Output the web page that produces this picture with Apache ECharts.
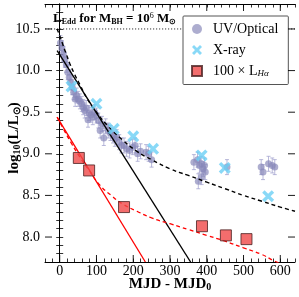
<!DOCTYPE html>
<html><head><meta charset="utf-8">
<script src="https://cdn.jsdelivr.net/npm/echarts@6/dist/echarts.min.js"></script>
<style>html,body{margin:0;padding:0;background:#fff}#c{width:299px;height:297px}</style>
</head><body><div id="c"></div>
<script>
const xTicks = [0,100,200,300,400,500,600];
const yTicks = [8.0,8.5,9.0,9.5,10.0,10.5];
const uvOptical = [[2,10.33],[6,10.27],[10,10.20],[14,10.13],[18,10.07],[22,9.98],[26,9.92],[30,9.86],[34,9.80],[38,9.74],[42,9.66],[46,9.70],[50,9.66],[55,9.63],[60,9.60],[64,9.56],[68,9.52],[72,9.55],[77,9.41],[80,9.49],[85,9.47],[90,9.44],[95,9.50],[100,9.46],[105,9.40],[110,9.28],[115,9.36],[120,9.19],[125,9.33],[132,9.28],[138,9.25],[145,9.22],[150,9.18],[155,9.20],[162,9.14],[168,9.10],[175,9.10],[182,9.06],[190,9.04],[198,9.08],[205,9.10],[212,9.00],[220,9.03],[235,9.02],[242,9.00],[250,8.93],[365,8.90],[375,8.93],[380,8.86],[385,8.88],[390,8.82],[394,8.86],[396,8.78],[386,8.72],[377,8.67],[455,8.84],[548,8.84],[553,8.78],[568,8.88],[578,8.86],[585,8.84]];
const uvErr = 0.09;
const xray = [[32,9.81],[100,9.60],[147,9.30],[200,9.21],[254,9.06],[386,8.98],[449,8.83],[567,8.49]];
const halpha = [[52,8.95],[80,8.80],[175,8.36],[387,8.13],[452,8.02],[508,7.975]];
const blackSolid = [[-7,10.24],[356,7.70]];
const blackDashed = [[-7,10.50],[0,10.42],[8,10.32],[16,10.22],[28,10.08],[40,9.96],[55,9.83],[75,9.66],[100,9.50],[130,9.34],[170,9.17],[210,9.03],[250,8.93],[300,8.82],[350,8.74],[400,8.66],[450,8.58],[500,8.50],[550,8.43],[600,8.36],[640,8.31]];
const redSolid = [[-7,9.44],[233,7.70]];
const redDashed = [[-7,9.44],[10,9.30],[30,9.14],[55,8.96],[80,8.80],[110,8.62],[140,8.50],[170,8.40],[210,8.31],[250,8.23],[300,8.16],[350,8.09],[400,8.02],[450,7.95],[500,7.87],[550,7.79],[580,7.72],[600,7.68]];
const eddington = 10.5;
const X_MIN=-40, X_MAX=640, Y_MIN=7.7, Y_MAX=10.8;

const serif = 'Liberation Serif';
const xPath = 'path://M0,2 L2,0 L5,3 L8,0 L10,2 L7,5 L10,8 L8,10 L5,7 L2,10 L0,8 L3,5 Z';

function axisBase(){return {axisLine:{show:true,lineStyle:{color:'#000',width:1}},axisTick:{show:true,inside:true,length:3.5,lineStyle:{color:'#000',width:0.8}},splitLine:{show:false}};}

const chart = echarts.init(document.getElementById('c'),null,{renderer:'canvas'});
const majorTick = (isX) => ({
  type:'custom', silent:true, z:10, clip:false,
  data: isX ? xTicks.map(v=>[v,Y_MIN]) : yTicks.map(v=>[X_MIN,v]),
  renderItem:(params,api)=>{
    const cs=params.coordSys; const p=api.coord([api.value(0),api.value(1)]);
    const L=7; const st={stroke:'#000',lineWidth:0.9};
    if(isX){return {type:'group',children:[
      {type:'line',shape:{x1:p[0],y1:cs.y+cs.height,x2:p[0],y2:cs.y+cs.height-L},style:st},
      {type:'line',shape:{x1:p[0],y1:cs.y,x2:p[0],y2:cs.y+L},style:st}]};}
    return {type:'group',children:[
      {type:'line',shape:{x1:cs.x,y1:p[1],x2:cs.x+L,y2:p[1]},style:st},
      {type:'line',shape:{x1:cs.x+cs.width,y1:p[1],x2:cs.x+cs.width-L,y2:p[1]},style:st}]};
  }
});

const boldRich = {a:{fontFamily:serif,fontWeight:'bold',fontSize:15,fill:'#000'},
                  s:{fontFamily:serif,fontWeight:'bold',fontSize:10,fill:'#000',padding:[7,0,0,0]}};

chart.setOption({
  animation:false,
  grid:{left:45,right:4,top:4,bottom:35,containLabel:false,outerBoundsMode:'none'},
  xAxis:[
    Object.assign(axisBase(),{type:'value',min:X_MIN,max:X_MAX,interval:20,position:'bottom',
      axisLabel:{fontFamily:serif,fontSize:14,color:'#000',margin:2,
        formatter:v=>(Math.abs(v%100)<1e-6?String(v):'')}}),
    Object.assign(axisBase(),{type:'value',min:X_MIN,max:X_MAX,interval:20,position:'top',axisLabel:{show:false}})
  ],
  yAxis:[
    Object.assign(axisBase(),{type:'value',min:Y_MIN,max:Y_MAX,interval:0.1,position:'left',
      axisLabel:{fontFamily:serif,fontSize:14,color:'#000',margin:5,
        formatter:v=>(Math.abs(v*2-Math.round(v*2))<1e-6?v.toFixed(1):'')}}),
    Object.assign(axisBase(),{type:'value',min:Y_MIN,max:Y_MAX,interval:0.1,position:'right',axisLabel:{show:false}})
  ],
  legend:{
    orient:'vertical',left:183,top:16,itemWidth:10,itemHeight:10,itemGap:7,
    padding:[6,10,6,8],backgroundColor:'#fff',borderColor:'#555',borderWidth:1,borderRadius:1,
    data:['UV/Optical','X-ray','100 × L_Hα'],
    textStyle:{fontFamily:serif,fontSize:14,color:'#000',padding:[0,0,0,6],
      rich:{a:{fontFamily:serif,fontSize:14,color:'#000'},s:{fontFamily:serif,fontSize:9,fontStyle:'italic',color:'#000',padding:[6,0,0,0]}}},
    formatter:n=> n==='100 × L_Hα' ? '{a|100 × L}{s|Hα}' : n
  },
  graphic:[
    {type:'text',left:53,top:12,z:20,style:{
      text:'{a|L}{s|Edd}{a| for M}{s|BH}{a| = 10}{p|6}{a| M}{s|⊙}',
      rich:{a:{fontFamily:serif,fontWeight:'bold',fontSize:13,fill:'#000'},
            s:{fontFamily:serif,fontWeight:'bold',fontSize:8,fill:'#000',padding:[5,0,0,0]},
            p:{fontFamily:serif,fontSize:8,fill:'#000',padding:[0,0,6,0]}}}},
    {type:'text',x:170,y:284,z:20,style:{text:'{a|MJD - MJD}{s|0}',rich:boldRich,align:'center',verticalAlign:'middle'}},
    {type:'text',x:14,y:138,rotation:Math.PI/2,z:20,style:{text:'{a|log}{s|10}{a|(L/L}{s|⊙}{a|)}',rich:boldRich,align:'center',verticalAlign:'middle'}}
  ],
  series:[
    {type:'line',data:[[X_MIN,eddington],[X_MAX,eddington]],symbol:'none',silent:true,
      lineStyle:{color:'#000',width:0.8,type:[1.2,1.8]},z:1},
    {type:'custom',name:'uvErr',silent:true,z:2,data:uvOptical,
      renderItem:(params,api)=>{
        const x=api.value(0),y=api.value(1);
        const lo=api.coord([x,y-uvErr]),hi=api.coord([x,y+uvErr]);
        const st={stroke:'rgba(160,160,205,0.75)',lineWidth:1};
        return {type:'group',children:[
          {type:'line',shape:{x1:lo[0],y1:lo[1],x2:hi[0],y2:hi[1]},style:st},
          {type:'line',shape:{x1:lo[0]-2,y1:lo[1],x2:lo[0]+2,y2:lo[1]},style:st},
          {type:'line',shape:{x1:hi[0]-2,y1:hi[1],x2:hi[0]+2,y2:hi[1]},style:st}]};
      }},
    {type:'scatter',name:'UV/Optical',data:uvOptical,symbol:'circle',symbolSize:7,z:3,
      itemStyle:{color:'rgba(135,135,185,0.85)'}},
    {type:'line',data:blackSolid,symbol:'none',z:4,lineStyle:{color:'#000',width:1.4}},
    {type:'line',data:blackDashed,symbol:'none',smooth:true,z:4,lineStyle:{color:'#000',width:1.4,type:[4,3]}},
    {type:'line',data:redSolid,symbol:'none',z:4,lineStyle:{color:'#ff0000',width:1.3}},
    {type:'line',data:redDashed,symbol:'none',smooth:true,z:4,lineStyle:{color:'#ff0000',width:1.3,type:[4,3]}},
    {type:'scatter',name:'X-ray',data:xray,symbol:xPath,symbolSize:12,z:5,
      itemStyle:{color:'#6cd0f5'}},
    {type:'scatter',name:'100 × L_Hα',data:halpha,symbol:'rect',symbolSize:11,z:6,
      itemStyle:{color:'#f04848',borderColor:'#4a2020',borderWidth:1}},
    majorTick(true), majorTick(false)
  ]
});
</script></body></html>
